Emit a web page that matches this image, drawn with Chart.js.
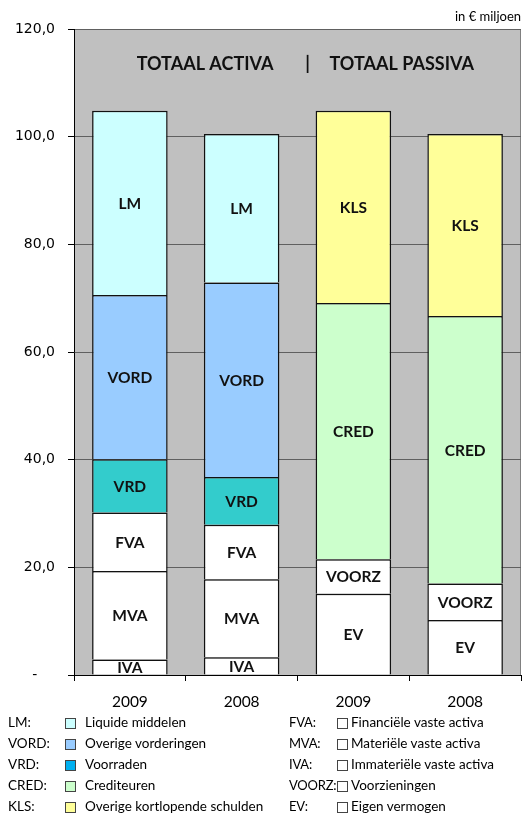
<!DOCTYPE html>
<html>
<head>
<meta charset="utf-8">
<script src="https://cdn.jsdelivr.net/npm/chart.js@4/dist/chart.umd.min.js"></script>
<style>
body { margin: 0; background: #fff; width: 531px; height: 816px; overflow: hidden; position: relative; font-family: Lato, sans-serif; color: #000; }
#wrap { position: absolute; left: 0; top: 0; width: 531px; height: 720px; }
#unit { position: absolute; right: 10px; top: 8px; font-size: 13px; }
.leg { position: absolute; top: 712px; font-size: 13.5px; }
.row { height: 21px; line-height: 21px; position: relative; white-space: nowrap; }
.ab { position: absolute; left: 0; }
#legRight .ab { font-size: 13px; letter-spacing: -0.2px; }
.sq { position: absolute; width: 9px; height: 9px; border: 1px solid #444; top: 6px; }
.tx { position: absolute; }
</style>
</head>
<body>
<div id="wrap"><canvas id="chart"></canvas></div>
<div id="unit">in € miljoen</div>
<div class="leg" id="legLeft" style="left:8px"></div>
<div class="leg" id="legRight" style="left:289px"></div>
<script>
// categorieen: 2x activa, 2x passiva
const years = ['2009', '2008', '2009', '2008'];

// activa (van onder naar boven)
const iva = [2.9, 3.3, null, null];
const mva = [16.4, 14.5, null, null];
const fva = [10.9, 10.1, null, null];
const vrd = [9.9, 8.9, null, null];
const vord = [30.5, 36.1, null, null];
const lm = [34.2, 27.6, null, null];

// passiva
const ev = [null, null, 15.1, 10.2];
const voorz = [null, null, 6.4, 6.8];
const cred = [null, null, 47.6, 49.7];
const kls = [null, null, 35.7, 33.8];

const yTicks = [0, 20, 40, 60, 80, 100, 120];

const legendLeft = [
  ['LM:', 'Liquide middelen', '#CCFFFF'],
  ['VORD:', 'Overige vorderingen', '#99CCFF'],
  ['VRD:', 'Voorraden', '#00B0F0'],
  ['CRED:', 'Crediteuren', '#CCFFCC'],
  ['KLS:', 'Overige kortlopende schulden', '#FFFF99']
];
const legendRight = [
  ['FVA:', 'Financiële vaste activa'],
  ['MVA:', 'Materiële vaste activa'],
  ['IVA:', 'Immateriële vaste activa'],
  ['VOORZ:', 'Voorzieningen'],
  ['EV:', 'Eigen vermogen']
];

function seg(label, data, color) {
  return {
    label: label,
    data: data,
    backgroundColor: color,
    borderColor: '#111',
    borderWidth: 1.5,
    borderSkipped: 'start', // geen dubbele lijn tussen de blokken
    stack: 's'
  };
}

const plotBg = {
  id: 'plotBg',
  beforeDraw(chart) {
    const { ctx, chartArea: a } = chart;
    ctx.save();
    ctx.fillStyle = '#C0C0C0';
    ctx.fillRect(a.left, a.top, a.right - a.left, a.bottom - a.top);
    ctx.strokeStyle = '#808080';
    ctx.lineWidth = 1;
    ctx.strokeRect(a.left + 0.5, a.top + 0.5, a.right - a.left - 1, a.bottom - a.top);
    ctx.restore();
  }
};

const segLabels = {
  id: 'segLabels',
  afterDatasetsDraw(chart) {
    const { ctx, chartArea: a } = chart;
    ctx.save();
    ctx.font = 'bold 15.5px Lato';
    ctx.fillStyle = '#111';
    ctx.textAlign = 'center';
    ctx.textBaseline = 'middle';
    chart.data.datasets.forEach((ds, i) => {
      chart.getDatasetMeta(i).data.forEach((bar, j) => {
        if (ds.data[j] == null) return;
        ctx.fillText(ds.label, bar.x, (bar.y + bar.base) / 2 + 1);
      });
    });
    // kop in het plotvlak
    ctx.font = 'bold 18px Lato';
    const mid = a.left + (a.right - a.left) / 2 + 10;
    const y = a.top + 35;
    ctx.textAlign = 'center';
    ctx.fillText('|', mid, y);
    ctx.textAlign = 'right';
    ctx.fillText('TOTAAL ACTIVA', mid - 34, y);
    ctx.textAlign = 'left';
    ctx.fillText('TOTAAL PASSIVA', mid + 22, y);
    ctx.restore();
  }
};

new Chart(document.getElementById('chart'), {
  type: 'bar',
  data: {
    labels: years,
    datasets: [
      seg('IVA', iva, '#FFFFFF'),
      seg('MVA', mva, '#FFFFFF'),
      seg('FVA', fva, '#FFFFFF'),
      seg('VRD', vrd, '#33CCCC'),
      seg('VORD', vord, '#99CCFF'),
      seg('LM', lm, '#CCFFFF'),
      seg('EV', ev, '#FFFFFF'),
      seg('VOORZ', voorz, '#FFFFFF'),
      seg('CRED', cred, '#CCFFCC'),
      seg('KLS', kls, '#FFFF99')
    ]
  },
  options: {
    responsive: true,
    maintainAspectRatio: false,
    animation: false,
    categoryPercentage: 1,
    barPercentage: 0.676,
    layout: { padding: { left: 0, right: 10, top: 29, bottom: 5 } },
    plugins: { legend: { display: false }, tooltip: { enabled: false } },
    scales: {
      x: {
        stacked: true,
        afterFit(s) { s.height = 40; },
        grid: { display: true, offset: true, drawOnChartArea: false, tickLength: 6, tickColor: '#000' },
        border: { color: '#000', width: 1 },
        ticks: { color: '#000', font: { family: 'Lato', size: 15.5 }, padding: 12 }
      },
      y: {
        stacked: true,
        min: 0,
        max: 120,
        afterFit(s) { s.width = 74; },
        afterBuildTicks(s) { s.ticks = yTicks.map(v => ({ value: v })); },
        grid: { color: '#606060', tickColor: '#000', tickLength: 6 },
        border: { color: '#000', width: 1 },
        ticks: {
          color: '#000',
          padding: 13,
          font: { family: 'DejaVu Sans', size: 14 },
          callback: v => v === 0 ? '-    ' : v.toFixed(1).replace('.', ',')
        }
      }
    }
  },
  plugins: [plotBg, segLabels]
});

// legenda
const left = document.getElementById('legLeft');
legendLeft.forEach(([ab, tx, col]) => {
  left.insertAdjacentHTML('beforeend',
    '<div class="row"><span class="ab">' + ab + '</span>' +
    '<span class="sq" style="left:57px;background:' + col + '"></span>' +
    '<span class="tx" style="left:77px">' + tx + '</span></div>');
});
const right = document.getElementById('legRight');
legendRight.forEach(([ab, tx]) => {
  right.insertAdjacentHTML('beforeend',
    '<div class="row"><span class="ab">' + ab + '</span>' +
    '<span class="sq" style="left:48px;background:#fff"></span>' +
    '<span class="tx" style="left:62px">' + tx + '</span></div>');
});
</script>
</body>
</html>
